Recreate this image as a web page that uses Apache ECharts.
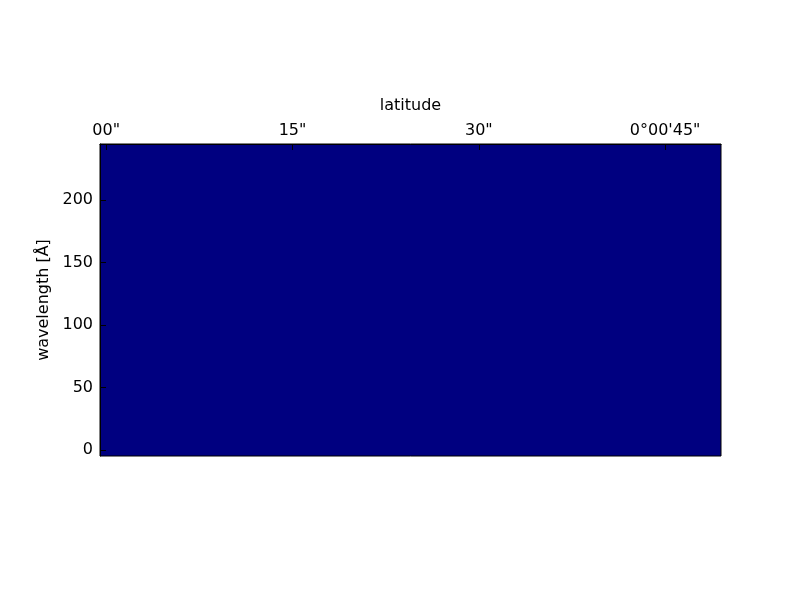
<!DOCTYPE html>
<html><head><meta charset="utf-8">
<script src="https://cdn.jsdelivr.net/npm/echarts@6/dist/echarts.min.js"></script>
<style>html,body{margin:0;background:#fff}#c{width:800px;height:600px}</style>
</head><body><div id="c"></div>
<script>
// ---- data ----
const latitudeTicks = [0, 15, 30, 45];
const latitudeTickLabels = ['00"', '15"', '30"', '0°00\'45"'];
const wavelengthTicks = [0, 50, 100, 150, 200];
const latitudeExtent = [-0.5, 49.5];     // image x extent (arcsec)
const wavelengthExtent = [-5, 245];      // image y extent
const imageValue = [0];                  // uniform image intensity (colormap minimum)
const jetColors = ['#000080', '#0000ff', '#00ffff', '#ffff00', '#ff0000', '#800000'];

const cells = imageValue.map(v => [latitudeExtent[0], latitudeExtent[1], wavelengthExtent[0], wavelengthExtent[1], v]);

const FONT = 'DejaVu Sans';
const chart = echarts.init(document.getElementById('c'), null, {renderer: 'canvas'});
const lineStyle = {color: '#000', width: 1};
chart.setOption({
  animation: false,
  backgroundColor: '#fff',
  grid: {left: 100, right: 79, top: 144, bottom: 144, containLabel: false, show: true, z: 20,
    backgroundColor: 'transparent', borderColor: '#000', borderWidth: 1},
  visualMap: {show: false, type: 'continuous', min: 0, max: 1, dimension: 4, seriesIndex: 0, inRange: {color: jetColors}},
  xAxis: {
    type: 'value', position: 'top', min: latitudeExtent[0], max: latitudeExtent[1], z: 10,
    name: 'latitude', nameLocation: 'middle', nameGap: 30,
    nameTextStyle: {fontFamily: FONT, fontSize: 16, color: '#000'},
    axisLine: {show: true, onZero: false, lineStyle},
    axisTick: {show: true, inside: true, length: 6, customValues: latitudeTicks, lineStyle},
    axisLabel: {show: true, margin: 5, customValues: latitudeTicks, fontFamily: FONT, fontSize: 16, color: '#000',
      formatter: v => latitudeTickLabels[latitudeTicks.indexOf(v)] ?? ''},
    splitLine: {show: false}
  },
  yAxis: {
    type: 'value', position: 'left', min: wavelengthExtent[0], max: wavelengthExtent[1], z: 10,
    name: 'wavelength [Å]', nameLocation: 'middle', nameGap: 43, nameRotate: 90,
    nameTextStyle: {fontFamily: FONT, fontSize: 16, color: '#000'},
    axisLine: {show: true, onZero: false, lineStyle},
    axisTick: {show: true, inside: true, length: 6, customValues: wavelengthTicks, lineStyle},
    axisLabel: {show: true, margin: 7, customValues: wavelengthTicks, fontFamily: FONT, fontSize: 16, color: '#000'},
    splitLine: {show: false}
  },
  series: [{
    type: 'custom', z: 2,
    encode: {x: [0, 1], y: [2, 3]},
    data: cells,
    renderItem: function (params, api) {
      const p0 = api.coord([api.value(0), api.value(3)]);
      const p1 = api.coord([api.value(1), api.value(2)]);
      return {type: 'rect', shape: {x: p0[0], y: p0[1], width: p1[0] - p0[0], height: p1[1] - p0[1]},
        style: {fill: api.visual('color')}};
    }
  }]
});
</script></body></html>
